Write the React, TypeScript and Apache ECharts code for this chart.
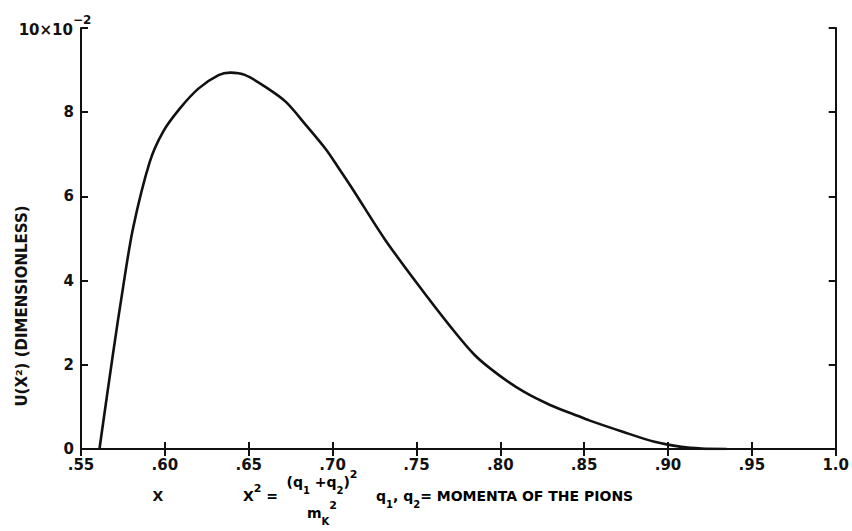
import React, { useEffect, useRef } from "react";
import * as echarts from "echarts";

// ---- data ----
const xValues = [0.561, 0.569, 0.575, 0.581, 0.591, 0.599, 0.609, 0.62, 0.632, 0.639, 0.648, 0.66, 0.672, 0.684, 0.696, 0.704, 0.712, 0.731, 0.751, 0.771, 0.785, 0.799, 0.814, 0.83, 0.846, 0.853, 0.873, 0.892, 0.908, 0.92, 0.935];
const uValues = [0, 2.24, 3.82, 5.24, 6.82, 7.54, 8.09, 8.56, 8.88, 8.94, 8.88, 8.6, 8.25, 7.7, 7.12, 6.65, 6.17, 4.99, 3.9, 2.87, 2.22, 1.76, 1.36, 1.04, 0.79, 0.68, 0.41, 0.17, 0.05, 0.01, 0];
const xTickLabels = [".55", ".60", ".65", ".70", ".75", ".80", ".85", ".90", ".95", "1.0"];
const yTickLabels = ["0", "2", "4", "6", "8", ""];
const yTopLabel = "10×10";
const yTopExp = "−2";
const yAxisTitle = "U(X²) (DIMENSIONLESS)";

const FONT = "DejaVu Sans";
const INK = "#111";

export default function App() {
  const ref = useRef<HTMLDivElement>(null);
  useEffect(() => {
    if (!ref.current) return;
    const chart = echarts.init(ref.current, null, { renderer: "svg" });
    const pts = xValues.map((x, i) => [x, uValues[i]]);
    const axisLine = { show: true, lineStyle: { color: INK, width: 2 } };
    const tick = { show: true, inside: true, length: 7, lineStyle: { color: INK, width: 2 } };
    const lbl = { fontFamily: FONT, fontWeight: "bold" as const, fontSize: 15, color: INK };
    const rich = {
      n: { fontFamily: FONT, fontWeight: "bold", fontSize: 14, color: INK, lineHeight: 26, verticalAlign: "middle" },
      s: { fontFamily: FONT, fontWeight: "bold", fontSize: 11, color: INK, lineHeight: 26, verticalAlign: "top" },
      b: { fontFamily: FONT, fontWeight: "bold", fontSize: 10, color: INK, lineHeight: 26, verticalAlign: "bottom" },
    };
    chart.setOption({
      animation: false,
      backgroundColor: "#fff",
      grid: { left: 81, right: 8, top: 28, bottom: 82 },
      xAxis: [
        {
          type: "value", min: 0.55, max: 1.0, interval: 0.05, position: "bottom",
          axisLine, axisTick: tick, splitLine: { show: false },
          axisLabel: {
            ...lbl, margin: 8,
            formatter: (v: number) => xTickLabels[Math.round((v - 0.55) / 0.05)] ?? "",
          },
        },
        {
          type: "value", min: 0.55, max: 1.0, interval: 0.05, position: "top",
          axisLine, axisTick: tick, splitLine: { show: false }, axisLabel: { show: false },
        },
      ],
      yAxis: [
        {
          type: "value", min: 0, max: 10, interval: 2, position: "left",
          axisLine, axisTick: tick, splitLine: { show: false },
          axisLabel: {
            ...lbl, margin: 7,
            formatter: (v: number) => yTickLabels[Math.round(v / 2)] ?? "",
          },
        },
        {
          type: "value", min: 0, max: 10, interval: 2, position: "right",
          axisLine, axisTick: tick, splitLine: { show: false }, axisLabel: { show: false },
        },
      ],
      series: [
        {
          type: "line", data: pts, showSymbol: false, smooth: 0.3,
          lineStyle: { color: INK, width: 2.6 },
        },
      ],
      graphic: [
        { type: "text", x: 73, y: 30, style: { text: yTopLabel, font: `bold 15px "${FONT}"`, fill: INK, align: "right", verticalAlign: "middle" } },
        { type: "text", x: 73, y: 20, style: { text: yTopExp, font: `bold 12px "${FONT}"`, fill: INK, align: "left", verticalAlign: "middle" } },
        { type: "text", x: 22, y: 306, rotation: Math.PI / 2, style: { text: yAxisTitle, font: `bold 15px "${FONT}"`, fill: INK, align: "center", verticalAlign: "middle" } },
        { type: "text", x: 158, y: 496, style: { text: "X", font: `bold 14px "${FONT}"`, fill: INK, align: "center", verticalAlign: "middle" } },
        { type: "text", x: 243, y: 496, style: { text: "{n|X}{s|2}{n| =}", rich, align: "left", verticalAlign: "middle" } },
        { type: "text", x: 322, y: 482, style: { text: "{n|(q}{b|1}{n| +q}{b|2}{n|)}{s|2}", rich, align: "center", verticalAlign: "middle" } },
        { type: "text", x: 322, y: 513, style: { text: "{n|m}{b|K}{s|2}", rich, align: "center", verticalAlign: "middle" } },
        { type: "text", x: 376, y: 496, style: { text: "{n|q}{b|1}{n|, q}{b|2}{n|= MOMENTA OF THE PIONS}", rich, align: "left", verticalAlign: "middle" } },
      ],
    });
    return () => chart.dispose();
  }, []);
  return <div ref={ref} style={{ width: 852, height: 531, position: "absolute", left: 0, top: 0 }} />;
}
